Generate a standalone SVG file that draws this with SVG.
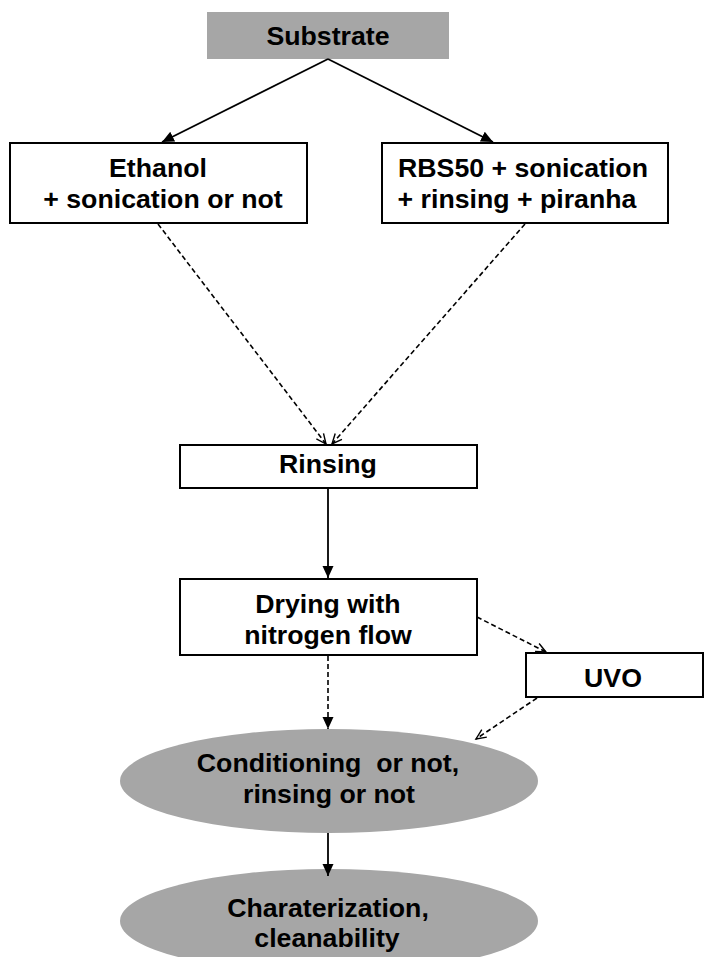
<svg xmlns="http://www.w3.org/2000/svg" width="705" height="957" viewBox="0 0 705 957">
<style>
.box{fill:#fff;stroke:#000;stroke-width:2}
.gray{fill:#a6a6a6;stroke:none}
.t{font-family:"Liberation Sans",Arial,sans-serif;font-weight:bold;font-size:26.7px;fill:#000;text-anchor:middle}
.solid{stroke:#000;stroke-width:1.8;fill:none}
.dash{stroke:#000;stroke-width:1.6;fill:none;stroke-dasharray:5 3}
</style>
<defs>
<marker id="fa" markerUnits="userSpaceOnUse" markerWidth="13" markerHeight="12" refX="12" refY="5.5" orient="auto">
<path d="M0,0 L12,5.5 L0,11 z" fill="#000"/>
</marker>
<marker id="oa" markerUnits="userSpaceOnUse" markerWidth="13" markerHeight="12" refX="11" refY="5.5" orient="auto">
<path d="M1,1 L11,5.5 L1,10" fill="none" stroke="#000" stroke-width="1.4"/>
</marker>
</defs>
<rect width="705" height="957" fill="#fff"/>
<g id="substrate">
<rect class="gray" x="207" y="12" width="242" height="47"/>
<text class="t" x="328" y="45">Substrate</text>
</g>
<g id="ethanol">
<rect class="box" x="10" y="143" width="297" height="80"/>
<text class="t" x="158" y="177">Ethanol</text>
<text class="t" x="163" y="208">+ sonication or not</text>
</g>
<g id="rbs50">
<rect class="box" x="382" y="143" width="286" height="80"/>
<text class="t" x="523" y="177">RBS50 + sonication</text>
<text class="t" x="517" y="208">+ rinsing + piranha</text>
</g>
<g id="rinsing">
<rect class="box" x="180" y="445" width="297" height="43"/>
<text class="t" x="328" y="473">Rinsing</text>
</g>
<g id="drying">
<rect class="box" x="180" y="579" width="297" height="76"/>
<text class="t" x="328" y="613">Drying with</text>
<text class="t" x="328" y="644">nitrogen flow</text>
</g>
<g id="uvo">
<rect class="box" x="526" y="653" width="177" height="44"/>
<text class="t" x="613" y="687">UVO</text>
</g>
<g id="conditioning">
<ellipse class="gray" cx="329" cy="781" rx="209" ry="52"/>
<text class="t" x="328" y="772" xml:space="preserve" style="white-space:pre">Conditioning  or not,</text>
<text class="t" x="329" y="803">rinsing or not</text>
</g>
<g id="characterization">
<ellipse class="gray" cx="329" cy="921" rx="209" ry="52"/>
<text class="t" x="328" y="917">Charaterization,</text>
<text class="t" x="327" y="947">cleanability</text>
</g>
<g id="connectors">
<line class="solid" x1="328" y1="59" x2="162" y2="142" marker-end="url(#fa)"/>
<line class="solid" x1="328" y1="59" x2="493" y2="142" marker-end="url(#fa)"/>
<line class="dash" x1="158" y1="224" x2="326" y2="444" marker-end="url(#oa)"/>
<line class="dash" x1="525" y1="224" x2="332" y2="444" marker-end="url(#oa)"/>
<line class="solid" x1="328" y1="489" x2="328" y2="578" marker-end="url(#fa)"/>
<line class="dash" x1="477" y1="617" x2="546" y2="652" marker-end="url(#oa)"/>
<line class="dash" x1="328" y1="656" x2="328" y2="729" marker-end="url(#fa)"/>
<line class="dash" x1="537" y1="698" x2="476" y2="739" marker-end="url(#oa)"/>
<line class="solid" x1="328" y1="833" x2="328" y2="876" marker-end="url(#fa)"/>
</g>
</svg>
